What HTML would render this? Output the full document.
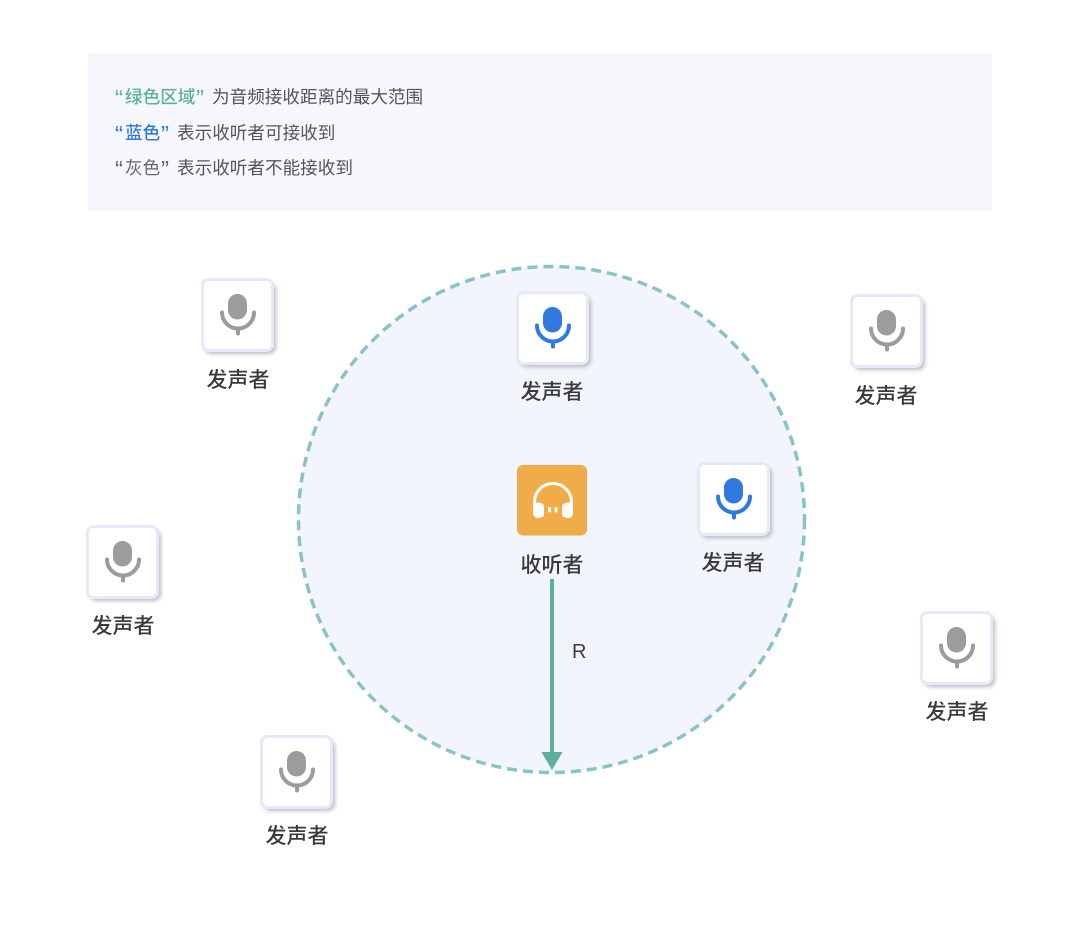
<!DOCTYPE html>
<html lang="zh">
<head>
<meta charset="utf-8">
<style>
html,body{margin:0;padding:0;background:#fff}
svg{display:block}
text{font-family:"Liberation Sans","Noto Sans CJK SC",sans-serif}
.l{font-size:21px;fill:#3a3a3a;text-anchor:middle;font-weight:500}
.t{font-size:17.6px;fill:#555}
.g{fill:#5cb09c;font-weight:500}
.bl{fill:#2f79e0;font-weight:500}
.gr{fill:#666}
.q{font-size:24px}
</style>
</head>
<body>
<svg width="1080" height="938" viewBox="0 0 1080 938" xmlns="http://www.w3.org/2000/svg">
<defs>
<filter id="b" x="-20%" y="-20%" width="140%" height="140%"><feGaussianBlur stdDeviation="2"/></filter>
<g id="card">
<rect x="3" y="4" width="71" height="71" rx="7" fill="#a4a6aa" opacity=".75" filter="url(#b)"/>
<rect x="0.5" y="0.5" width="70" height="71" rx="6" fill="#fff" stroke="#e6e9f9" stroke-width="3"/>
</g>
<g id="mic">
<rect x="26" y="15" width="19" height="25.5" rx="9.5"/>
<path d="M20 33.5 A16 16 0 0 0 52 33.5" fill="none" stroke-width="4" stroke-linecap="round" stroke="currentColor"/>
<path d="M36 50 V54.5" fill="none" stroke-width="4" stroke-linecap="round" stroke="currentColor"/>
</g>
</defs>

<rect x="88" y="53" width="904" height="158" fill="#f6f6fd"/>
<text class="t g q" x="115" y="106.5">“</text>
<text class="t g" x="125" y="103">绿色区域</text>
<text class="t g q" x="196" y="106.5">”</text>
<text class="t" x="212" y="103">为音频接收距离的最大范围</text>

<text class="t bl q" x="115" y="142.5">“</text>
<text class="t bl" x="125" y="139">蓝色</text>
<text class="t bl q" x="161" y="142.5">”</text>
<text class="t" x="177" y="139">表示收听者可接收到</text>

<text class="t gr q" x="115" y="177.5">“</text>
<text class="t gr" x="125" y="174">灰色</text>
<text class="t gr q" x="161" y="177.5">”</text>
<text class="t" x="177" y="174">表示收听者不能接收到</text>

<circle cx="551.5" cy="519.5" r="253" fill="#f2f6fc" stroke="#8ac3c7" stroke-width="3.5" stroke-dasharray="10 6"/>

<g transform="translate(202,279)"><use href="#card"/><use href="#mic" fill="#9c9c9c" color="#9c9c9c"/></g>
<text class="l" x="238" y="387">发声者</text>

<g transform="translate(517,292)"><use href="#card"/><use href="#mic" fill="#2f79e0" color="#2f79e0"/></g>
<text class="l" x="552" y="399">发声者</text>

<g transform="translate(851,295)"><use href="#card"/><use href="#mic" fill="#9c9c9c" color="#9c9c9c"/></g>
<text class="l" x="886" y="403">发声者</text>

<g transform="translate(698,463)"><use href="#card"/><use href="#mic" fill="#2f79e0" color="#2f79e0"/></g>
<text class="l" x="733" y="570">发声者</text>

<g transform="translate(87,526)"><use href="#card"/><use href="#mic" fill="#9c9c9c" color="#9c9c9c"/></g>
<text class="l" x="123" y="633">发声者</text>

<g transform="translate(921,612)"><use href="#card"/><use href="#mic" fill="#9c9c9c" color="#9c9c9c"/></g>
<text class="l" x="957" y="719">发声者</text>

<g transform="translate(261,736)"><use href="#card"/><use href="#mic" fill="#9c9c9c" color="#9c9c9c"/></g>
<text class="l" x="297" y="843">发声者</text>

<rect x="517" y="465" width="70" height="70.5" rx="6" fill="#efac48"/>
<path d="M534.5 506 V502 A18.5 18.5 0 0 1 571.5 502 V506" fill="none" stroke="#fff" stroke-width="3"/>
<path d="M533 507 A5 5 0 0 1 539 502.5 L541 503 Q544 504 544 507 V514 Q544 517 541 517.5 L539 518 A5 5 0 0 1 533 514 Z" fill="#fff"/>
<path d="M573 507 A5 5 0 0 0 567 502.5 L565 503 Q562 504 562 507 V514 Q562 517 565 517.5 L567 518 A5 5 0 0 0 573 514 Z" fill="#fff"/>
<rect x="548" y="507" width="3" height="5.5" rx="1.5" fill="#fff"/>
<rect x="554.5" y="507" width="3" height="5.5" rx="1.5" fill="#fff"/>
<text class="l" x="552" y="572">收听者</text>

<rect x="550" y="579" width="4" height="176" fill="#5cb09c"/>
<polygon points="541.5,752 562.5,752 552,770" fill="#5cb09c"/>
<text x="572" y="658" font-size="20" fill="#3d3d3d">R</text>
</svg>
</body>
</html>
